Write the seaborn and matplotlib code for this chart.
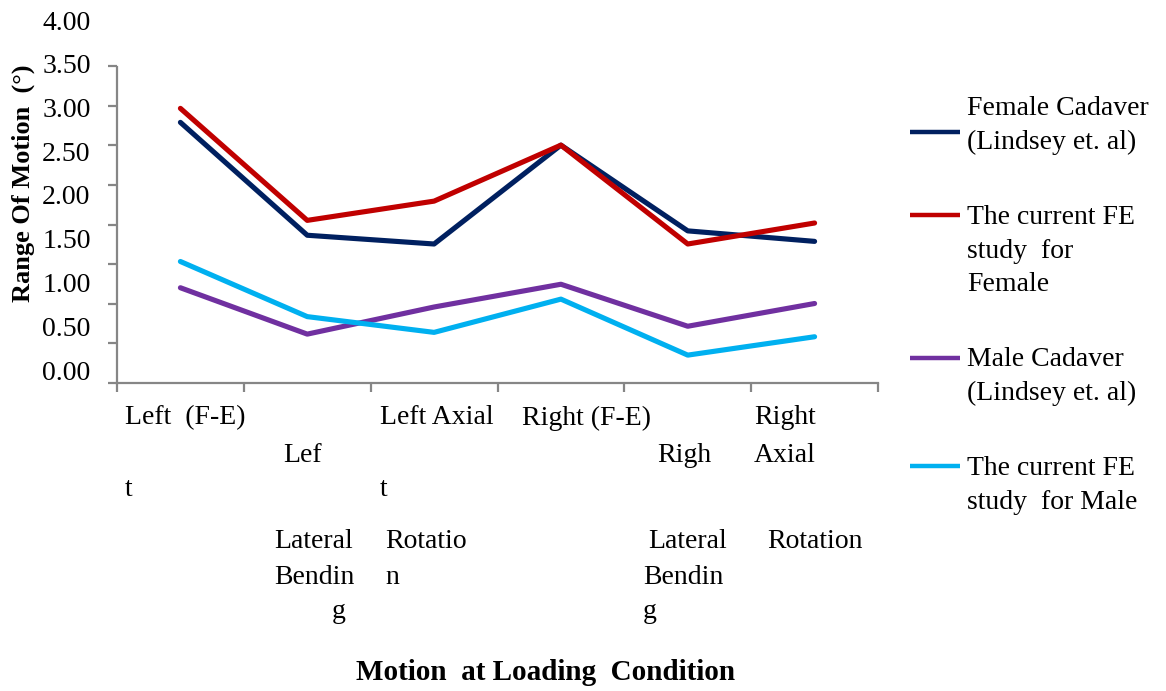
import numpy as np
import pandas as pd
import matplotlib
matplotlib.use("Agg")
import matplotlib.pyplot as plt
from matplotlib.lines import Line2D
import seaborn as sns

# Loading conditions (x categories)
conditions = ["Left (F-E)", "Left Lateral Bending", "Left Axial Rotation",
              "Right (F-E)", "Right Lateral Bending", "Right Axial Rotation"]

# Range of motion (degrees) per series
female_cadaver = [2.83, 1.54, 1.44, 2.57, 1.59, 1.47]
fe_female = [2.99, 1.71, 1.93, 2.57, 1.44, 1.68]
male_cadaver = [0.94, 0.41, 0.72, 0.98, 0.50, 0.76]
fe_male = [1.24, 0.61, 0.43, 0.81, 0.17, 0.38]

series_names = ["Female Cadaver\n(Lindsey et. al)",
                "The current FE\nstudy  for\nFemale",
                "Male Cadaver\n(Lindsey et. al)",
                "The current FE\nstudy  for Male"]
series_values = [female_cadaver, fe_female, male_cadaver, fe_male]
series_colors = ["#002060", "#C00000", "#7030A0", "#00B0F0"]

ytick_values = [0.0, 0.5, 1.0, 1.5, 2.0, 2.5, 3.0, 3.5, 4.0]
ytick_labels = ["0.00", "0.50", "1.00", "1.50", "2.00", "2.50", "3.00", "3.50", "4.00"]

ylabel = "Range Of Motion  (\u00b0)"
xlabel = "Motion  at Loading  Condition"

# Wrapped fragments of the category labels as they are typeset under the axis
xlabel_fragments = [
    ("Left  (F-E)", 125, 418), ("t", 125, 490),
    ("Lef", 283, 456), ("Lateral", 274, 541), ("Bendin", 274, 577), ("g", 332, 612),
    ("Left Axial", 380, 418), ("t", 380, 490), ("Rotatio", 385, 541), ("n", 385, 577),
    ("Right (F-E)", 522, 418),
    ("Righ", 657, 455), ("Lateral", 648, 541), ("Bendin", 643, 577), ("g", 643, 612),
    ("Right", 754, 418), ("Axial", 754, 455), ("Rotation", 767, 541),
]

sns.set_style("white")
plt.rcParams["font.family"] = ["Liberation Serif", "DejaVu Serif"]
plt.rcParams["text.color"] = "black"
plt.rcParams["ytick.color"] = "black"
plt.rcParams["xtick.color"] = "black"

W, H = 1166, 691
fig = plt.figure(figsize=(W / 100, H / 100), dpi=100)


def fx(px):
    return px / W


def fy(py):
    return 1 - py / H


# Value scale: 0 at 370 px, 87.5 px per unit; axis line at 383 px
px_per_unit = 87.5
y0_px = 370.0
ax_bottom_px, ax_top_px = 383.0, 10.0
ymin = (y0_px - ax_bottom_px) / px_per_unit
ymax = (y0_px - ax_top_px) / px_per_unit
ax_left_px, ax_right_px = 117.0, 878.0

ax = fig.add_axes([fx(ax_left_px), fy(ax_bottom_px),
                   (ax_right_px - ax_left_px) / W, (ax_bottom_px - ax_top_px) / H])

rows = []
for name, vals in zip(series_names, series_values):
    for i, v in enumerate(vals):
        rows.append({"pos": i, "condition": conditions[i], "series": name, "rom": v})
df = pd.DataFrame(rows)

sns.lineplot(data=df, x="pos", y="rom", hue="series", hue_order=series_names,
             palette=dict(zip(series_names, series_colors)), sort=False,
             linewidth=3.7, legend=False, ax=ax)

ax.set_xlim(-0.5, len(conditions) - 0.5)
ax.set_ylim(ymin, ymax)
ax.set_xlabel("")
ax.set_ylabel("")

axis_gray = "#868686"
for side in ["top", "right"]:
    ax.spines[side].set_visible(False)
spine_top_val = (y0_px - 67.0) / px_per_unit
ax.spines["left"].set_bounds(ymin, spine_top_val)
for side in ["left", "bottom"]:
    ax.spines[side].set_color(axis_gray)
    ax.spines[side].set_linewidth(1.6)

# Tick marks along the axis lines
step = 39.6 / px_per_unit
ax.set_yticks([ymin + k * step for k in range(9)], minor=True)
ax.set_yticks(ytick_values)
ax.set_yticklabels(ytick_labels, fontsize=20, color="black")
ax.tick_params(axis="y", which="major", length=0, pad=19)
ax.tick_params(axis="y", which="minor", length=6.5, width=1.6, color=axis_gray, direction="out", left=True)

ax.set_xticks(np.arange(-0.5, len(conditions), 1.0))
ax.set_xticklabels([])
ax.tick_params(axis="x", length=6.5, width=1.6, color=axis_gray, direction="out", bottom=True)

for text, x, y in xlabel_fragments:
    fig.text(fx(x), fy(y), text, fontsize=20, ha="left", va="center", color="black")

fig.text(fx(23), fy(183), ylabel, fontsize=19, fontweight="bold",
         rotation=90, ha="center", va="center", color="black")
fig.text(fx(546), fy(672), xlabel, fontsize=21, fontweight="bold",
         ha="center", va="center", color="black")

# Legend: coloured line plus wrapped label
legend_line_y = [132, 215, 358, 466]
legend_text_y = [111, 220, 362, 471]
for name, color, ly, ty in zip(series_names, series_colors, legend_line_y, legend_text_y):
    fig.add_artist(Line2D([fx(910), fx(960)], [fy(ly), fy(ly)], color=color,
                          linewidth=3.2, transform=fig.transFigure, solid_capstyle="butt"))
    fig.text(fx(967), fy(ty - 15), name, fontsize=20, ha="left", va="top",
             linespacing=1.45, color="black")

fig.savefig("out.png", dpi=100)
